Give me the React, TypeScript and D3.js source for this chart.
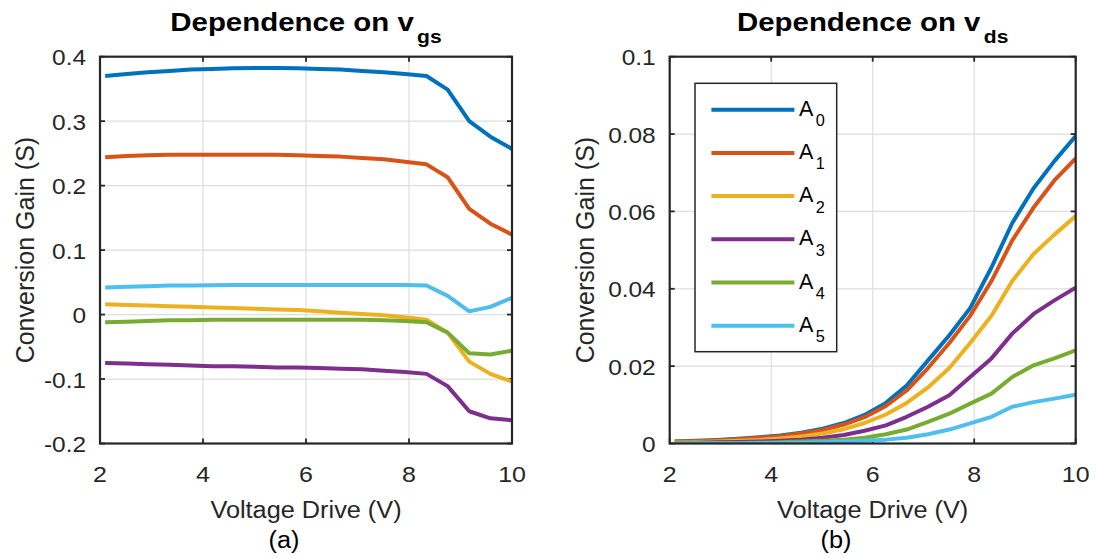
import React from "react"
import * as d3 from "d3"

// Data
const xDrive = [2.1, 2.52, 2.93, 3.35, 3.76, 4.18, 4.59, 5.01, 5.43, 5.84, 6.26, 6.67, 7.09, 7.51, 7.92, 8.34, 8.75, 9.17, 9.58, 10]

const seriesNames = ["0", "1", "2", "3", "4", "5"]
const colors = ["#0072BD", "#D95319", "#EDB120", "#7E2F8E", "#77AC30", "#4DBEEE"]

// (a) dependence on v_gs
const gsA0 = [0.370, 0.373, 0.376, 0.378, 0.380, 0.381, 0.382, 0.3825, 0.3825, 0.382, 0.381, 0.380, 0.378, 0.376, 0.373, 0.370, 0.349, 0.300, 0.276, 0.257]
const gsA1 = [0.244, 0.246, 0.247, 0.248, 0.248, 0.248, 0.248, 0.248, 0.248, 0.247, 0.246, 0.245, 0.243, 0.241, 0.237, 0.233, 0.213, 0.164, 0.141, 0.124]
const gsA2 = [0.016, 0.015, 0.014, 0.013, 0.012, 0.011, 0.010, 0.009, 0.008, 0.007, 0.005, 0.003, 0.001, -0.001, -0.004, -0.008, -0.028, -0.073, -0.092, -0.104]
const gsA3 = [-0.075, -0.076, -0.077, -0.078, -0.079, -0.080, -0.080, -0.081, -0.082, -0.082, -0.083, -0.084, -0.085, -0.087, -0.089, -0.092, -0.111, -0.150, -0.161, -0.164]
const gsA4 = [-0.012, -0.011, -0.010, -0.009, -0.009, -0.008, -0.008, -0.008, -0.008, -0.008, -0.008, -0.008, -0.008, -0.009, -0.010, -0.012, -0.028, -0.060, -0.062, -0.056]
const gsA5 = [0.042, 0.043, 0.044, 0.045, 0.045, 0.0455, 0.046, 0.046, 0.046, 0.046, 0.046, 0.046, 0.046, 0.046, 0.046, 0.045, 0.029, 0.005, 0.012, 0.026]

// (b) dependence on v_ds
const dsA0 = [0.0005, 0.0007, 0.0009, 0.0012, 0.0016, 0.0021, 0.0028, 0.0038, 0.0053, 0.0074, 0.0105, 0.015, 0.0215, 0.028, 0.035, 0.0455, 0.057, 0.066, 0.073, 0.0795]
const dsA1 = [0.0005, 0.0006, 0.0008, 0.0011, 0.0015, 0.0019, 0.0026, 0.0035, 0.0049, 0.0068, 0.0097, 0.0137, 0.0195, 0.026, 0.033, 0.042, 0.0525, 0.061, 0.068, 0.0737]
const dsA2 = [0.0003, 0.0004, 0.0005, 0.0007, 0.0009, 0.0013, 0.0018, 0.0026, 0.0037, 0.0053, 0.0075, 0.0105, 0.0145, 0.0195, 0.026, 0.033, 0.042, 0.049, 0.054, 0.0588]
const dsA3 = [0.0002, 0.0002, 0.0003, 0.0004, 0.0005, 0.0007, 0.001, 0.0015, 0.0022, 0.0033, 0.0047, 0.0069, 0.0095, 0.0125, 0.0172, 0.022, 0.0284, 0.0335, 0.037, 0.0403]
const dsA4 = [0.0001, 0.0001, 0.0001, 0.0001, 0.0002, 0.0003, 0.0005, 0.0007, 0.001, 0.0015, 0.0024, 0.0036, 0.0056, 0.0077, 0.0103, 0.0129, 0.0172, 0.0202, 0.022, 0.0241]
const dsA5 = [0, 0, 0, 0, 0.0001, 0.0001, 0.0002, 0.0003, 0.0005, 0.0007, 0.001, 0.0015, 0.0024, 0.0036, 0.0052, 0.0069, 0.0095, 0.0107, 0.0116, 0.0126]

const xTicks = [2, 4, 6, 8, 10]
const gsTicks = [-0.2, -0.1, 0, 0.1, 0.2, 0.3, 0.4]
const gsTickLabels = ["-0.2", "-0.1", "0", "0.1", "0.2", "0.3", "0.4"]
const dsTicks = [0, 0.02, 0.04, 0.06, 0.08, 0.1]
const dsTickLabels = ["0", "0.02", "0.04", "0.06", "0.08", "0.1"]

const FONT = "'Liberation Sans', Arial, Helvetica, sans-serif"
const AXIS = "#262626"
const SX = 1.11 // the figure's text is a bit wider than plain Arial

function T({ x, y, size, anchor = "start", sx = SX, bold = false, fill = AXIS, children }: any) {
  return (
    <text
      transform={`translate(${x},${y}) scale(${sx},1)`}
      fontSize={size}
      textAnchor={anchor}
      fontWeight={bold ? "bold" : "normal"}
      fill={fill}
    >
      {children}
    </text>
  )
}

type PanelProps = {
  left: number
  right: number
  yDomain: [number, number]
  yTicks: number[]
  yTickLabels: string[]
  series: number[][]
  titleSub: string
  caption: string
  captionX: number
  yLabelX: number
  legend?: boolean
}

const TOP = 56.7
const BOTTOM = 443.5

function Panel({ left, right, yDomain, yTicks, yTickLabels, series, titleSub, caption, captionX, yLabelX, legend }: PanelProps) {
  const x = d3.scaleLinear().domain([2, 10]).range([left, right])
  const y = d3.scaleLinear().domain(yDomain).range([BOTTOM, TOP])
  const line = d3.line<number>().x((d, i) => x(xDrive[i])).y(d => y(d))
  const cx = (left + right) / 2
  const tick = 5

  // legend layout
  const lgX = left + 25.3
  const lgY = 83.3
  const lgW = 141.7
  const lgH = 268.4
  const rowH = 43.2

  return (
    <g fontFamily={FONT}>
      {/* Title */}
      <T x={cx} y={30.7} size={26.5} anchor="middle" bold fill="#000">
        Dependence on v
        <tspan fontSize={19} dy={12.3} dx={3}>{titleSub}</tspan>
      </T>

      {/* Grid */}
      {xTicks.map(t => (
        <line key={"gx" + t} x1={x(t)} x2={x(t)} y1={TOP} y2={BOTTOM} stroke="#dedede" strokeWidth={1.2} />
      ))}
      {yTicks.map(t => (
        <line key={"gy" + t} x1={left} x2={right} y1={y(t)} y2={y(t)} stroke="#dedede" strokeWidth={1.2} />
      ))}

      {/* Ticks */}
      {xTicks.map(t => (
        <g key={"tx" + t}>
          <line x1={x(t)} x2={x(t)} y1={BOTTOM} y2={BOTTOM - tick} stroke={AXIS} strokeWidth={1.8} />
          <line x1={x(t)} x2={x(t)} y1={TOP} y2={TOP + tick} stroke={AXIS} strokeWidth={1.8} />
          <T x={x(t)} y={482} size={22.5} anchor="middle">{t}</T>
        </g>
      ))}
      {yTicks.map((t, i) => (
        <g key={"ty" + t}>
          <line x1={left} x2={left + tick} y1={y(t)} y2={y(t)} stroke={AXIS} strokeWidth={1.8} />
          <line x1={right} x2={right - tick} y1={y(t)} y2={y(t)} stroke={AXIS} strokeWidth={1.8} />
          <T x={left - 14} y={y(t) + 8.5} size={22} anchor="end">{yTickLabels[i]}</T>
        </g>
      ))}

      {/* Lines */}
      <clipPath id={"clip" + titleSub}>
        <rect x={left} y={TOP} width={right - left} height={BOTTOM - TOP} />
      </clipPath>
      <g clipPath={`url(#clip${titleSub})`}>
        {series.map((s, i) => (
          <path key={i} d={line(s) ?? ""} fill="none" stroke={colors[i]} strokeWidth={4} strokeLinejoin="round" />
        ))}
      </g>

      {/* Box */}
      <rect x={left} y={TOP} width={right - left} height={BOTTOM - TOP} fill="none" stroke={AXIS} strokeWidth={2.2} />

      {/* Axis labels */}
      <T x={cx} y={518.3} size={23.3} anchor="middle" sx={1.086}>Voltage Drive (V)</T>
      <T x={captionX} y={548} size={23.3} anchor="middle" sx={1.086} fill="#000">{caption}</T>
      <text transform={`translate(${yLabelX},${(TOP + BOTTOM) / 2}) rotate(-90)`} textAnchor="middle" fontSize={25} fill={AXIS}>
        Conversion Gain (S)
      </text>

      {/* Legend */}
      {legend && (
        <g>
          <rect x={lgX} y={lgY} width={lgW} height={lgH} fill="#fff" stroke={AXIS} strokeWidth={1.5} />
          {seriesNames.map((n, i) => {
            const ry = lgY + 26.4 + i * rowH
            return (
              <g key={n}>
                <line x1={lgX + 16.4} x2={lgX + 99.4} y1={ry} y2={ry} stroke={colors[i]} strokeWidth={4} />
                <T x={lgX + 104} y={ry + 6} size={21.5} sx={1.0} fill="#000">
                  A<tspan fontSize={16.3} dy={10.5} dx={2.5}>{n}</tspan>
                </T>
              </g>
            )
          })}
        </g>
      )}
    </g>
  )
}

export default function App() {
  return (
    <svg width={1096} height={558} style={{ position: "absolute", left: 0, top: 0, background: "#fff" }}>
      <rect width={1096} height={558} fill="#fff" />
      <Panel
        left={100}
        right={512}
        yDomain={[-0.2, 0.4]}
        yTicks={gsTicks}
        yTickLabels={gsTickLabels}
        series={[gsA0, gsA1, gsA2, gsA3, gsA4, gsA5]}
        titleSub="gs"
        caption="(a)"
        captionX={284}
        yLabelX={33.5}
      />
      <Panel
        left={669.7}
        right={1075.7}
        yDomain={[0, 0.1]}
        yTicks={dsTicks}
        yTickLabels={dsTickLabels}
        series={[dsA0, dsA1, dsA2, dsA3, dsA4, dsA5]}
        titleSub="ds"
        caption="(b)"
        captionX={836}
        yLabelX={594}
        legend
      />
    </svg>
  )
}
